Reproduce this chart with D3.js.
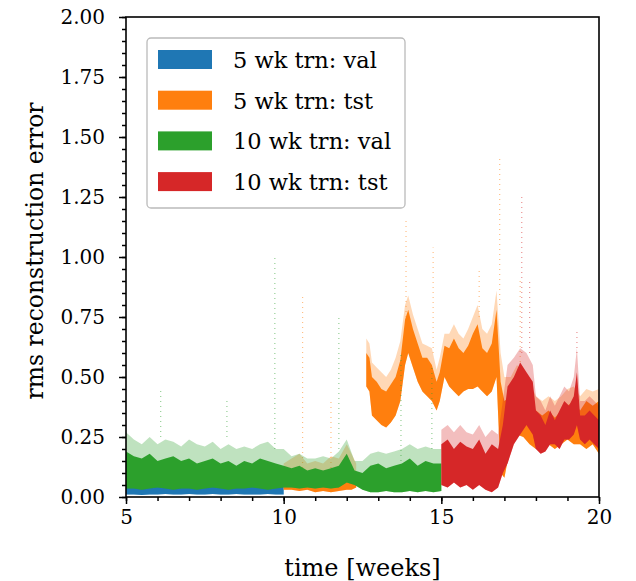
<!DOCTYPE html>
<html lang="en">
  <head>
    <meta charset="UTF-8" />
    <title>rms reconstruction error</title>
    <style>
      body { margin: 0; background: #fff; }
      text { font-family: "DejaVu Serif", "Liberation Serif", serif; fill: #000; }
      .axis path, .axis line { stroke: #000; }
      .frame { fill: none; stroke: #000; stroke-width: 1.6px; }
    </style>
  </head>
  <body>
    <script src="https://cdn.jsdelivr.net/npm/d3@7"></script>
    <script>

      // Data: for each series a band of weeks with the
      // dense lower / upper edge (lo, hi) and the sparse upper fringe (top).

      var seriesNames = ["5 wk trn: val", "5 wk trn: tst", "10 wk trn: val", "10 wk trn: tst"];
      var seriesColors = ["#1f77b4", "#ff7f0e", "#2ca02c", "#d62728"];

      var blueWeeks = [5.0, 5.25, 5.5, 5.75, 6.0, 6.25, 6.5, 6.75, 7.0, 7.25, 7.5, 7.75, 8.0, 8.25, 8.5, 8.75, 9.0, 9.25, 9.5, 9.75, 10.0];
      var blueLo    = [0.01, 0.01, 0.008, 0.01, 0.01, 0.012, 0.01, 0.01, 0.012, 0.01, 0.01, 0.012, 0.01, 0.01, 0.012, 0.01, 0.01, 0.01, 0.012, 0.01, 0.01];
      var blueHi    = [0.07, 0.06, 0.055, 0.06, 0.05, 0.055, 0.05, 0.06, 0.05, 0.045, 0.05, 0.055, 0.05, 0.045, 0.05, 0.055, 0.05, 0.045, 0.05, 0.06, 0.05];
      var blueTop   = [0.1, 0.09, 0.08, 0.09, 0.08, 0.08, 0.08, 0.09, 0.08, 0.07, 0.08, 0.08, 0.08, 0.07, 0.08, 0.08, 0.08, 0.07, 0.08, 0.09, 0.08];

      var greenWeeks = [5.0, 5.25, 5.5, 5.75, 6.0, 6.25, 6.5, 6.75, 7.0, 7.25, 7.5, 7.75, 8.0, 8.25, 8.5, 8.75, 9.0, 9.25, 9.5, 9.75, 10.0,
                        10.25, 10.5, 10.75, 11.0, 11.25, 11.5, 11.75, 12.0, 12.25, 12.5, 12.75, 13.0, 13.25, 13.5, 13.75, 14.0, 14.25, 14.5, 14.75, 15.0];
      var greenLo    = [0.035, 0.035, 0.03, 0.035, 0.04, 0.035, 0.03, 0.035, 0.035, 0.03, 0.035, 0.04, 0.035, 0.03, 0.035, 0.035, 0.04, 0.035, 0.03, 0.035, 0.04,
                        0.04, 0.035, 0.04, 0.035, 0.04, 0.035, 0.04, 0.06, 0.05, 0.03, 0.02, 0.02, 0.025, 0.02, 0.02, 0.025, 0.02, 0.025, 0.02, 0.025];
      var greenHi    = [0.19, 0.17, 0.16, 0.18, 0.15, 0.16, 0.17, 0.15, 0.16, 0.14, 0.15, 0.16, 0.14, 0.15, 0.13, 0.15, 0.14, 0.16, 0.15, 0.14, 0.13,
                        0.12, 0.13, 0.11, 0.12, 0.11, 0.12, 0.13, 0.18, 0.11, 0.10, 0.13, 0.14, 0.12, 0.13, 0.14, 0.16, 0.13, 0.15, 0.14, 0.14];
      var greenTop   = [0.27, 0.24, 0.22, 0.25, 0.22, 0.24, 0.23, 0.21, 0.24, 0.22, 0.21, 0.23, 0.20, 0.22, 0.20, 0.21, 0.20, 0.22, 0.23, 0.20, 0.20,
                        0.17, 0.18, 0.16, 0.16, 0.17, 0.16, 0.19, 0.24, 0.15, 0.15, 0.18, 0.19, 0.18, 0.19, 0.20, 0.22, 0.20, 0.21, 0.20, 0.20];

      // orange, first low stretch (mostly hidden behind green)
      var orangeLowWeeks = [10.0, 10.25, 10.5, 10.75, 11.0, 11.25, 11.5, 11.75, 12.0, 12.15, 12.3];
      var orangeLowLo    = [0.03, 0.03, 0.025, 0.03, 0.02, 0.025, 0.02, 0.025, 0.03, 0.03, 0.04];
      var orangeLowHi    = [0.09, 0.10, 0.11, 0.09, 0.10, 0.09, 0.11, 0.10, 0.14, 0.12, 0.10];
      var orangeLowTop   = [0.14, 0.16, 0.18, 0.14, 0.15, 0.14, 0.17, 0.16, 0.22, 0.18, 0.14];

      // orange after the jump at week 12.6
      var orangeWeeks = [12.62, 12.72, 12.8, 12.95, 13.1, 13.25, 13.4, 13.55, 13.7, 13.85, 13.95, 14.1, 14.25, 14.4, 14.55, 14.7, 14.85, 14.95,
                         15.1, 15.25, 15.4, 15.55, 15.7, 15.85, 16.0, 16.15, 16.3, 16.45, 16.6, 16.75, 16.88, 17.0, 17.2, 17.4, 17.6, 17.8,
                         18.0, 18.2, 18.4, 18.6, 18.8, 19.0, 19.2, 19.4, 19.6, 19.8, 20.0];
      var orangeLo    = [0.46, 0.44, 0.34, 0.32, 0.30, 0.29, 0.31, 0.34, 0.40, 0.55, 0.60, 0.54, 0.48, 0.44, 0.42, 0.40, 0.36, 0.40,
                         0.50, 0.46, 0.44, 0.42, 0.44, 0.45, 0.45, 0.46, 0.44, 0.42, 0.44, 0.50, 0.10, 0.08, 0.22, 0.26, 0.25, 0.22,
                         0.20, 0.20, 0.22, 0.20, 0.22, 0.24, 0.22, 0.22, 0.20, 0.22, 0.18];
      var orangeHi    = [0.60, 0.58, 0.50, 0.48, 0.45, 0.44, 0.47, 0.50, 0.57, 0.74, 0.78, 0.70, 0.64, 0.58, 0.58, 0.55, 0.48, 0.52,
                         0.63, 0.62, 0.66, 0.62, 0.60, 0.63, 0.68, 0.72, 0.62, 0.60, 0.64, 0.78, 0.48, 0.40, 0.42, 0.46, 0.44, 0.40,
                         0.36, 0.34, 0.36, 0.33, 0.36, 0.38, 0.40, 0.36, 0.40, 0.38, 0.40];
      var orangeTop   = [0.66, 0.64, 0.56, 0.54, 0.52, 0.50, 0.53, 0.58, 0.65, 0.80, 0.84, 0.76, 0.70, 0.64, 0.63, 0.62, 0.53, 0.58,
                         0.68, 0.68, 0.72, 0.68, 0.66, 0.70, 0.75, 0.80, 0.70, 0.68, 0.72, 0.86, 0.60, 0.50, 0.50, 0.55, 0.52, 0.48,
                         0.42, 0.40, 0.42, 0.40, 0.42, 0.45, 0.46, 0.42, 0.45, 0.44, 0.45];

      var redWeeks = [15.0, 15.2, 15.4, 15.6, 15.8, 16.0, 16.2, 16.4, 16.6, 16.8, 16.95, 17.1, 17.3, 17.5, 17.7, 17.9,
                      18.0, 18.15, 18.3, 18.45, 18.6, 18.75, 18.9, 19.05, 19.2, 19.3, 19.4, 19.55, 19.7, 19.85, 20.0];
      var redLo    = [0.05, 0.04, 0.06, 0.04, 0.05, 0.03, 0.05, 0.03, 0.02, 0.04, 0.10, 0.14, 0.22, 0.26, 0.30, 0.26,
                      0.20, 0.18, 0.19, 0.22, 0.22, 0.20, 0.24, 0.24, 0.26, 0.30, 0.24, 0.22, 0.24, 0.22, 0.20];
      var redHi    = [0.22, 0.24, 0.20, 0.23, 0.21, 0.20, 0.24, 0.18, 0.22, 0.20, 0.30, 0.46, 0.50, 0.56, 0.52, 0.48,
                      0.36, 0.34, 0.30, 0.36, 0.32, 0.36, 0.40, 0.38, 0.42, 0.52, 0.34, 0.34, 0.36, 0.34, 0.32];
      var redTop   = [0.28, 0.30, 0.27, 0.30, 0.27, 0.26, 0.30, 0.25, 0.28, 0.26, 0.40, 0.55, 0.58, 0.62, 0.60, 0.55,
                      0.42, 0.40, 0.36, 0.42, 0.38, 0.42, 0.46, 0.44, 0.50, 0.62, 0.40, 0.40, 0.42, 0.40, 0.38];

      // sparse vertical streaks of outliers: [week, from, to]
      var greenStreaks  = [[6.1, 0.25, 0.45], [8.2, 0.25, 0.40], [9.72, 0.2, 1.0], [11.75, 0.2, 0.75], [13.72, 0.15, 0.6], [14.7, 0.2, 0.55]];
      var orangeStreaks = [[10.6, 0.1, 0.85], [11.5, 0.1, 0.4], [13.88, 0.75, 1.15], [14.74, 0.6, 1.04], [16.2, 0.75, 0.95], [16.85, 0.8, 1.42], [17.5, 0.5, 0.9]];
      var redStreaks    = [[17.55, 0.6, 1.25], [17.8, 0.6, 0.9], [19.3, 0.6, 0.7]];

      var xTicks = [5, 10, 15, 20];
      var yTicks = [0, 0.25, 0.5, 0.75, 1.0, 1.25, 1.5, 1.75, 2.0];


      // Layout
      var w = 636, h = 581;
      var margin = { top: 17, right: 37, bottom: 84, left: 126 };
      var iw = w - margin.left - margin.right,
          ih = h - margin.top - margin.bottom;

      var svg = d3.select("body").append("svg")
        .attr("width", w)
        .attr("height", h);

      var xScale = d3.scaleLinear().domain([5, 20]).range([0, iw]);
      var yScale = d3.scaleLinear().domain([0, 2]).range([ih, 0]);

      svg.append("defs").append("clipPath")
         .attr("id", "plot-clip")
         .append("rect")
         .attr("width", iw)
         .attr("height", ih);

      var g = svg.append("g")
        .attr("transform", "translate(" + margin.left + "," + margin.top + ")");

      var plot = g.append("g").attr("clip-path", "url(#plot-clip)");

      // Turn the parallel arrays into rows for the area generator
      function rows(weeks, lo, hi, top) {
        return weeks.map(function(wk, i) {
          return { week: wk, lo: lo[i], hi: hi[i], top: top[i] };
        });
      }

      var fringe = d3.area()
        .x(function(d) { return xScale(d.week); })
        .y0(function(d) { return yScale(d.lo); })
        .y1(function(d) { return yScale(d.top); });

      var core = d3.area()
        .x(function(d) { return xScale(d.week); })
        .y0(function(d) { return yScale(d.lo); })
        .y1(function(d) { return yScale(d.hi); });

      function drawBand(data, color) {
        plot.append("path")
            .datum(data)
            .attr("d", fringe)
            .attr("fill", color)
            .attr("fill-opacity", 0.3);
        plot.append("path")
            .datum(data)
            .attr("d", core)
            .attr("fill", color);
      }

      function drawStreaks(list, color) {
        plot.selectAll(null)
            .data(list)
            .enter()
            .append("line")
            .attr("x1", function(d) { return xScale(d[0]); })
            .attr("x2", function(d) { return xScale(d[0]); })
            .attr("y1", function(d) { return yScale(d[1]); })
            .attr("y2", function(d) { return yScale(d[2]); })
            .attr("stroke", color)
            .attr("stroke-width", 1.2)
            .attr("stroke-opacity", 0.5)
            .attr("stroke-dasharray", "1,4");
      }

      // Same order as the original: blue, orange, green, red
      drawBand(rows(blueWeeks, blueLo, blueHi, blueTop), seriesColors[0]);
      drawStreaks(orangeStreaks, seriesColors[1]);
      drawBand(rows(orangeLowWeeks, orangeLowLo, orangeLowHi, orangeLowTop), seriesColors[1]);
      drawBand(rows(orangeWeeks, orangeLo, orangeHi, orangeTop), seriesColors[1]);
      drawStreaks(greenStreaks, seriesColors[2]);
      drawBand(rows(greenWeeks, greenLo, greenHi, greenTop), seriesColors[2]);
      drawStreaks(redStreaks, seriesColors[3]);
      drawBand(rows(redWeeks, redLo, redHi, redTop), seriesColors[3]);


      // Axes, major + minor ticks
      var xAxis = d3.axisBottom(xScale).tickValues(xTicks).tickFormat(d3.format("d")).tickSize(7).tickPadding(6);
      var xMinor = d3.axisBottom(xScale).tickValues(d3.range(5, 21, 1)).tickFormat("").tickSize(4);
      var yAxis = d3.axisLeft(yScale).tickValues(yTicks).tickFormat(d3.format(".2f")).tickSize(7).tickPadding(14);
      var yMinor = d3.axisLeft(yScale).tickValues(d3.range(0, 2.001, 0.05)).tickFormat("").tickSize(4);

      [xMinor, xAxis].forEach(function(ax) {
        g.append("g")
         .attr("class", "axis")
         .attr("transform", "translate(0," + ih + ")")
         .call(ax);
      });
      [yMinor, yAxis].forEach(function(ax) {
        g.append("g")
         .attr("class", "axis")
         .call(ax);
      });

      g.selectAll(".axis .domain").remove();
      g.selectAll(".axis line").attr("stroke-width", 1.5);
      g.selectAll(".axis text").attr("font-size", 20).attr("font-family", null);

      g.append("rect")
       .attr("class", "frame")
       .attr("width", iw)
       .attr("height", ih);

      // Axis labels
      g.append("text")
       .attr("x", iw / 2)
       .attr("y", ih + 79)
       .attr("text-anchor", "middle")
       .attr("font-size", 24)
       .text("time [weeks]");

      g.append("text")
       .attr("transform", "translate(" + (-margin.left + 43) + "," + (ih / 2 - 6) + ") rotate(-90)")
       .attr("text-anchor", "middle")
       .attr("font-size", 23.5)
       .text("rms reconstruction error");


      // Legend
      var legend = svg.append("g").attr("transform", "translate(147,38)");

      legend.append("rect")
            .attr("width", 258)
            .attr("height", 170)
            .attr("rx", 4)
            .attr("fill", "#fff")
            .attr("fill-opacity", 0.8)
            .attr("stroke", "#bbb")
            .attr("stroke-width", 1.3);

      var item = legend.selectAll(".item")
        .data(seriesNames)
        .enter()
        .append("g")
        .attr("class", "item")
        .attr("transform", function(d, i) { return "translate(11," + (12 + i * 40.7) + ")"; });

      item.append("rect")
          .attr("width", 54)
          .attr("height", 19)
          .attr("fill", function(d, i) { return seriesColors[i]; });

      item.append("text")
          .attr("x", 75)
          .attr("y", 18)
          .attr("font-size", 22.5)
          .text(function(d) { return d; });

    </script>
  </body>
</html>
